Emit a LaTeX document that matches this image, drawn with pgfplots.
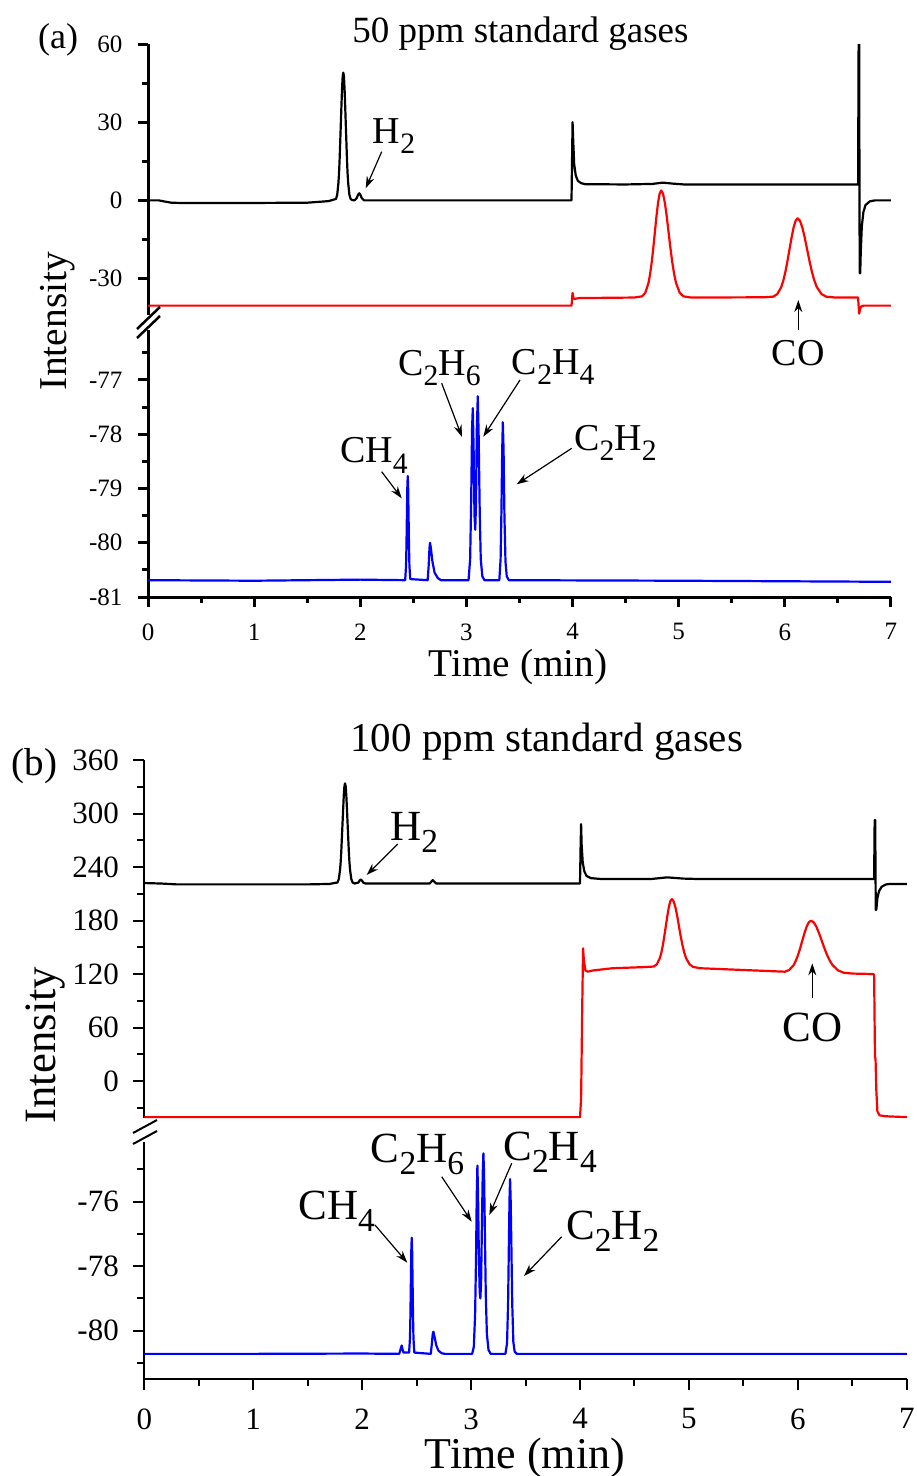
\documentclass[border=0pt]{standalone}
\usepackage{fontspec}
\setmainfont{Liberation Serif}
\usepackage{graphicx}
\usepackage{pgfplots}
\pgfplotsset{compat=1.18}
\usetikzlibrary{arrows.meta}

% chemical subscripts, large and lowered
\newcommand{\sub}[1]{\raisebox{-0.28em}{\scalebox{0.78}{#1}}}

\pgfplotsset{
  gc/.style={
    scale only axis, xmin=0, xmax=7, tick align=outside,
    /pgf/number format/assume math mode=true,
    every axis plot/.append style={line width=2.2pt, line join=round, mark=none},
  },
  gca/.style={gc,
    axis line style={line width=3pt},
    major tick length=10pt, minor tick length=6pt,
    every tick/.style={line width=3pt, black},
    tick label style={font=\fontsize{25}{29}\selectfont},
    yticklabel style={xshift=-12pt},
    xticklabel style={yshift=-13pt},
  },
  gcb/.style={gc,
    axis line style={line width=2pt},
    major tick length=11pt, minor tick length=7pt,
    every tick/.style={line width=2pt, black},
    tick label style={font=\fontsize{31}{34}\selectfont},
    yticklabel style={xshift=-11pt},
    xticklabel style={yshift=-15pt},
  },
}

\begin{document}
\begin{tikzpicture}
\path[use as bounding box] (0pt,0pt) rectangle (917pt,-1476pt);

% ---------------- (a) upper part: TCD channel ----------------
\begin{axis}[gca, at={(148pt,-44pt)}, anchor=north west,
  width=743pt, height=271pt, ymin=-44, ymax=60,
  hide x axis, axis y line*=left,
  ytick={-30,0,30,60}, minor ytick={-15,15,45}]
\addplot[black] coordinates {
(0,0) (0.1,0) (0.15,-0.4) (0.22,-0.9) (0.3,-1.0) (1.0,-1.0) (1.5,-0.9) (1.6,-0.6) (1.7,-0.3)
(1.771,0.54) (1.7825,2.15) (1.794,6.63) (1.80,10.60) (1.8055,15.91) (1.811,22.43)
(1.817,29.72) (1.823,36.99) (1.8285,43.24) (1.834,47.49) (1.84,49) (1.846,47.49)
(1.8515,43.24) (1.857,36.99) (1.863,29.72) (1.869,22.43) (1.8745,15.91) (1.88,10.60)
(1.886,6.63) (1.8975,2.15) (1.909,0.54) (1.925,0.1) (1.945,0) (1.965,0.8) (1.98,2.2)
(1.99,2.7) (2.0,2.2) (2.015,0.8) (2.035,0) (3.99,0) (3.995,15) (4.0,30) (4.007,22) (4.015,14)
(4.03,9.5) (4.05,7.5) (4.08,6.6) (4.12,6.2) (4.5,6.1) (4.75,6.3) (4.85,6.8) (4.95,6.4)
(5.05,6.1) (6.69,6.1) (6.695,60) (6.70,60) (6.705,-28) (6.71,-28) (6.715,-20) (6.725,-10)
(6.74,-4.5) (6.76,-1.8) (6.8,-0.4) (6.85,0) (7.0,0)};
\addplot[red] coordinates {
(0,-40.4) (3.99,-40.4) (4.0,-35.5) (4.008,-37.6) (4.02,-37.8) (4.06,-37.5) (4.58,-37.3)
(4.655,-36.84) (4.685,-35.50) (4.715,-31.74) (4.73,-28.41) (4.745,-23.95) (4.76,-18.48)
(4.775,-12.37) (4.79,-6.28) (4.805,-1.03) (4.82,2.53) (4.835,3.8) (4.8525,2.53)
(4.87,-1.03) (4.8875,-6.28) (4.905,-12.37) (4.9225,-18.48) (4.94,-23.95) (4.9575,-28.41)
(4.975,-31.74) (5.01,-35.50) (5.045,-36.84) (5.12,-37.3)
(5.8,-37.2) (5.89,-36.96) (5.929,-35.97) (5.967,-33.19) (5.986,-30.72) (6.005,-27.43)
(6.024,-23.38) (6.0435,-18.86) (6.063,-14.35) (6.082,-10.47) (6.101,-7.84) (6.12,-6.9)
(6.1425,-7.84) (6.165,-10.47) (6.1875,-14.35) (6.21,-18.86) (6.2325,-23.38) (6.255,-27.43)
(6.2775,-30.72) (6.30,-33.19) (6.345,-35.97) (6.39,-36.96) (6.48,-37.3)
(6.69,-37.3) (6.695,-40.5) (6.70,-43.5) (6.705,-42.5) (6.715,-40.8) (6.74,-40.4) (7.0,-40.4)};
\end{axis}

% ---------------- (a) lower part: FID channel ----------------
\begin{axis}[gca, at={(148pt,-330pt)}, anchor=north west,
  width=743pt, height=267pt, ymin=-81, ymax=-76.08,
  axis x line*=bottom, axis y line*=left,
  xtick={0,...,7}, minor xtick={0.5,1.5,...,6.5},
  ytick={-81,-80,-79,-78,-77}, minor ytick={-80.5,-79.5,-78.5,-77.5,-76.5}]
\addplot[blue] coordinates {
(0,-80.69) (1.0,-80.70) (2.0,-80.68) (2.423,-80.69) (2.431,-80.43) (2.435,-80.07)
(2.439,-79.53) (2.443,-79.0) (2.447,-78.77) (2.451,-79.0) (2.455,-79.53) (2.459,-80.07)
(2.463,-80.43) (2.471,-80.67) (2.635,-80.69) (2.645,-80.4) (2.652,-80.1) (2.657,-80.0)
(2.665,-80.1) (2.68,-80.35) (2.70,-80.55) (2.73,-80.65) (2.76,-80.69) (3.02,-80.69)
(3.035,-80.3) (3.045,-79.2) (3.053,-77.9) (3.06,-77.52) (3.068,-78.3) (3.076,-79.5)
(3.083,-79.76) (3.09,-79.3) (3.098,-77.9) (3.107,-77.3) (3.115,-78.0) (3.125,-79.4)
(3.135,-80.3) (3.15,-80.62) (3.17,-80.69) (3.31,-80.69) (3.322,-80.3) (3.33,-79.4)
(3.337,-78.3) (3.343,-77.78) (3.35,-78.3) (3.358,-79.5) (3.368,-80.35) (3.38,-80.62)
(3.40,-80.69) (5.0,-80.70) (7.0,-80.72)};
\end{axis}

% ---------------- (b) upper part: TCD channel ----------------
\begin{axis}[gcb, at={(144.3pt,-760pt)}, anchor=north west,
  width=762.5pt, height=358pt, ymin=-41.5, ymax=360,
  hide x axis, axis y line*=left,
  ytick={0,60,...,360}, minor ytick={-30,30,90,150,210,270,330}]
\addplot[black] coordinates {
(0,222) (0.15,221.5) (0.3,220.5) (1.5,220.5) (1.7,221) (1.774,222.7) (1.7855,226.4)
(1.797,236.7) (1.803,245.8) (1.8085,258.0) (1.814,272.9) (1.82,289.6) (1.826,306.3)
(1.8315,320.6) (1.837,330.3) (1.843,333.8) (1.849,330.3) (1.8545,320.6) (1.86,306.3)
(1.866,289.6) (1.872,272.9) (1.8775,258.0) (1.883,245.8) (1.889,236.7) (1.9005,226.4)
(1.912,222.7) (1.93,221.5) (1.965,222.5) (1.978,225) (1.987,226)
(1.997,225) (2.01,222.5) (2.03,221.5) (2.62,221.5) (2.635,223.5) (2.648,225.4) (2.66,223.8)
(2.68,221.5) (4.0,221.5) (4.005,260) (4.01,288) (4.015,265) (4.025,245) (4.04,235)
(4.06,230) (4.1,227.5) (4.2,226.5) (4.65,226.5) (4.8,228.4) (4.95,227) (5.1,226.5)
(6.70,226.5) (6.705,292.7) (6.71,292.7) (6.715,191.8) (6.72,191.8) (6.73,205) (6.745,213)
(6.77,218) (6.81,220.5) (6.85,221) (7.0,221)};
\addplot[red] coordinates {
(0,-40.5) (4.0,-40.5) (4.01,-20) (4.02,80) (4.028,148.8) (4.036,135) (4.05,124)
(4.07,122.6) (4.12,124) (4.3,126.5) (4.6,127.8)
(4.678,128.4) (4.7055,130.9) (4.733,137.9) (4.747,144.0) (4.7605,152.3) (4.774,162.5)
(4.788,173.9) (4.802,185.2) (4.8155,195.0) (4.829,201.6) (4.843,204) (4.859,201.6)
(4.8755,195.0) (4.892,185.2) (4.908,173.9) (4.924,162.5) (4.9405,152.3) (4.957,144.0)
(4.973,137.9) (5.0055,130.9) (5.038,128.0) (5.1,126.5) (5.5,124.5)
(5.88,122.6) (5.92,124.5) (5.96,129.8) (5.98,134.5) (6.0,140.8) (6.02,148.5) (6.04,157.1)
(6.06,165.6) (6.08,173.0) (6.10,178.0) (6.12,179.8) (6.145,178.0) (6.17,173.0)
(6.195,165.6) (6.22,157.1) (6.245,148.5) (6.27,140.8) (6.295,134.5) (6.32,129.8)
(6.37,124.0) (6.42,121.5) (6.5,120.5) (6.69,120) (6.70,119) (6.705,60) (6.708,27)
(6.713,25) (6.72,-10) (6.73,-34) (6.75,-38.5) (6.8,-39.5) (7.0,-40.5)};
\end{axis}

% ---------------- (b) lower part: FID channel ----------------
\begin{axis}[gcb, at={(144.3pt,-1142pt)}, anchor=north west,
  width=762.5pt, height=237pt, ymin=-81.5, ymax=-74.15,
  axis x line*=bottom, axis y line*=left,
  xtick={0,...,7}, minor xtick={0.5,1.5,...,6.5},
  ytick={-80,-78,-76}, minor ytick={-81,-79,-77,-75}]
\addplot[blue] coordinates {
(0,-80.72) (1.0,-80.72) (2.0,-80.71) (2.34,-80.72) (2.355,-80.55) (2.363,-80.46)
(2.372,-80.6) (2.38,-80.68) (2.431,-80.68) (2.439,-80.23) (2.443,-79.55) (2.447,-78.54)
(2.451,-77.54) (2.455,-77.12) (2.459,-77.54) (2.463,-78.54) (2.467,-79.55) (2.471,-80.23)
(2.479,-80.68) (2.63,-80.72) (2.64,-80.4) (2.648,-80.1) (2.654,-80.03) (2.662,-80.15)
(2.68,-80.45) (2.70,-80.62) (2.73,-80.7) (2.76,-80.72) (3.01,-80.72) (3.025,-80.5)
(3.037,-79.5) (3.046,-77.6) (3.052,-75.8) (3.058,-74.88) (3.064,-75.8) (3.071,-77.6)
(3.079,-78.8) (3.085,-79.0) (3.092,-78.5) (3.1,-76.6) (3.107,-75.1) (3.113,-74.5)
(3.119,-75.1) (3.126,-76.8) (3.135,-78.9) (3.145,-80.1) (3.16,-80.6) (3.18,-80.72)
(3.315,-80.72) (3.33,-80.4) (3.34,-79.1) (3.347,-77.3) (3.353,-75.9) (3.358,-75.3)
(3.363,-75.9) (3.37,-77.4) (3.378,-79.2) (3.388,-80.35) (3.40,-80.65) (3.42,-80.72)
(5.0,-80.72) (7.0,-80.72)};
\end{axis}

% ---------------- titles, labels, peak annotations ----------------
\begin{scope}[x=1pt, y=-1pt, every node/.style={inner sep=0pt}]
  % axis breaks
  \fill[white] (130,315) rectangle (166,329);
  \draw[line width=2.5pt] (137,338) -- (160,316) (137,329) -- (160,307);
  \fill[white] (128,1120) rectangle (160,1141);
  \draw[line width=2pt] (133,1144) -- (157,1131) (133,1133) -- (157,1120);

  % panel (a)
  \node[anchor=base west, font=\fontsize{36}{40}\selectfont] at (38,48) {(a)};
  \node[anchor=base, font=\fontsize{37}{42}\selectfont] at (520.5,42) {50 ppm standard gases};
  \node[anchor=base, rotate=90, font=\fontsize{39.5}{44}\selectfont] at (66.7,321) {Intensity};
  \node[anchor=base, font=\fontsize{39.3}{44}\selectfont] at (518,676) {Time (min)};
  \begin{scope}[font=\fontsize{38}{42}\selectfont]
    \node[anchor=base west] at (372.7,143.3) {H\sub{2}};
    \node[anchor=base west] at (771.7,365) {CO};
    \node[anchor=base west] at (398,375) {C\sub{2}H\sub{6}};
    \node[anchor=base west] at (511.7,374) {C\sub{2}H\sub{4}};
    \node[anchor=base west] at (574,450) {C\sub{2}H\sub{2}};
    \node[anchor=base west] at (340,462.7) {CH\sub{4}};
  \end{scope}
  \begin{scope}[line width=1.2pt, -{Stealth[length=12pt, width=8pt]}]
    \draw (381.7,151.7) -- (365.7,188.3);
    \draw[line width=1.6pt] (798.3,330) -- (798.3,300);
    \draw (441.7,383.3) -- (462,437);
    \draw (520,380) -- (483.3,436.7);
    \draw (571.7,448.3) -- (516.7,484.3);
    \draw (381.7,471.7) -- (401.7,498.3);
  \end{scope}

  % panel (b)
  \node[anchor=base west, font=\fontsize{39}{44}\selectfont] at (11.7,775) {(b)};
  \node[anchor=base, font=\fontsize{41}{46}\selectfont] at (546.7,751.7) {100 ppm standard gases};
  \node[anchor=base, rotate=90, font=\fontsize{44.8}{50}\selectfont] at (55,1045) {Intensity};
  \node[anchor=base, font=\fontsize{44}{50}\selectfont] at (525,1468) {Time (min)};
  \begin{scope}[font=\fontsize{43}{48}\selectfont]
    \node[anchor=base west] at (390,840) {H\sub{2}};
    \node[anchor=base west] at (782.7,1041.7) {CO};
    \node[anchor=base west] at (370.7,1162.7) {C\sub{2}H\sub{6}};
    \node[anchor=base west] at (503.3,1160) {C\sub{2}H\sub{4}};
    \node[anchor=base west] at (566,1239.3) {C\sub{2}H\sub{2}};
    \node[anchor=base west] at (298.3,1219.3) {CH\sub{4}};
  \end{scope}
  \begin{scope}[line width=1.2pt, -{Stealth[length=12pt, width=8pt]}]
    \draw (397.7,844) -- (366.7,875);
    \draw[line width=1.6pt] (812.3,997.7) -- (812.3,963.3);
    \draw (441.7,1176.7) -- (471.7,1221.7);
    \draw (511.7,1163.3) -- (489.3,1215);
    \draw (561.7,1236.7) -- (524,1276);
    \draw (375,1225) -- (407.3,1262.7);
  \end{scope}
\end{scope}
\end{tikzpicture}
\end{document}
